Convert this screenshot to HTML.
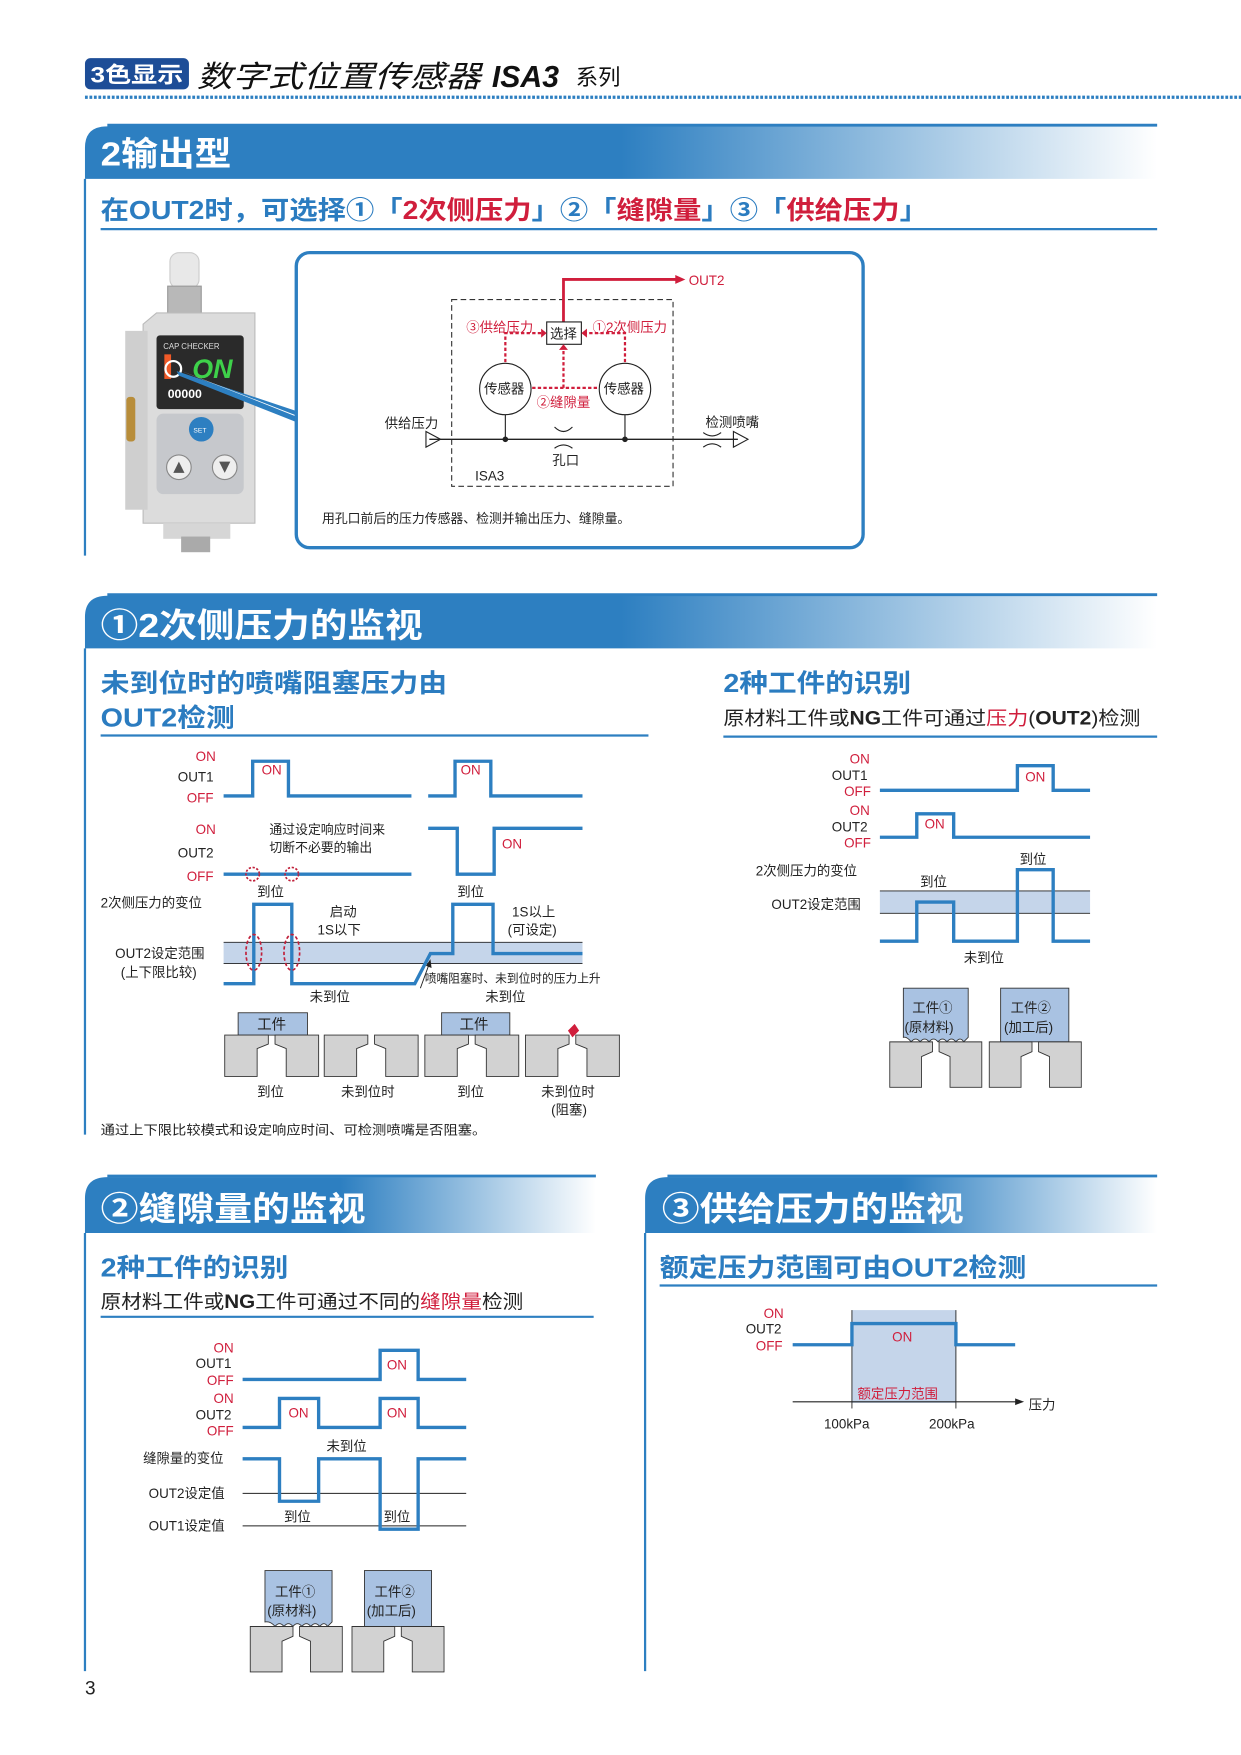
<!DOCTYPE html>
<html><head><meta charset="utf-8">
<style>
html,body{margin:0;padding:0;background:#fff;}
svg{display:block;}
text{font-family:"Liberation Sans","Noto Sans CJK SC",sans-serif;}
.b{fill:#2b7cc0;font-weight:bold;}
.r{fill:#d01e3c;}
.k{fill:#222;}
.sig{fill:none;stroke:#2d7fc1;stroke-width:3;}
.thin{stroke:#222;stroke-width:1;fill:none;}
</style></head>
<body>
<svg width="1241" height="1755" viewBox="0 0 1110 1570" preserveAspectRatio="none" xmlns="http://www.w3.org/2000/svg">
<defs>
<linearGradient id="g" x1="0" x2="1" y1="0" y2="0">
<stop offset="0" stop-color="#2d7fc1"/><stop offset="0.5" stop-color="#2d7fc1"/><stop offset="1" stop-color="#ffffff"/>
</linearGradient>
<g id="noz">
<path d="M-42,0 H-3 V8 L-13,12 V37 H-42 Z" fill="#d2d2d2" stroke="#333" stroke-width="0.8"/>
<path d="M3,0 H42 V37 H13 V12 L3,8 Z" fill="#d2d2d2" stroke="#333" stroke-width="0.8"/>
</g>
</defs>

<!-- header -->
<rect x="76" y="52" width="93" height="28" rx="5" fill="#1d4d97"/>
<text x="81" y="74" font-size="20" font-weight="bold" fill="#fff" textLength="83" lengthAdjust="spacingAndGlyphs">3色显示</text>
<text x="176" y="78" font-size="27" font-style="italic" fill="#111" textLength="254" lengthAdjust="spacingAndGlyphs">数字式位置传感器</text>
<text x="440" y="78" font-size="27" font-style="italic" font-weight="bold" fill="#111">ISA3</text>
<text x="515" y="76" font-size="20" fill="#111">系列</text>
<line x1="76" y1="87" x2="1110" y2="87" stroke="#2d7fc1" stroke-width="3" stroke-dasharray="2.5 1.5"/>

<!-- section 1 -->
<path d="M76,160 V132 Q76,113 96,113 H1035 V160 Z" fill="url(#g)"/>
<line x1="96" y1="112" x2="1035" y2="112" stroke="#2d7fc1" stroke-width="2.5"/>
<text x="90" y="148" font-size="30" font-weight="bold" fill="#fff" textLength="117" lengthAdjust="spacingAndGlyphs">2输出型</text>
<line x1="76" y1="160" x2="76" y2="497" stroke="#2d7fc1" stroke-width="2"/>
<text x="90" y="196" font-size="23" font-weight="bold" textLength="740" lengthAdjust="spacingAndGlyphs"><tspan fill="#2b7cc0">在OUT2时，可选择①「</tspan><tspan fill="#d01e3c">2次侧压力</tspan><tspan fill="#2b7cc0">」②「</tspan><tspan fill="#d01e3c">缝隙量</tspan><tspan fill="#2b7cc0">」③「</tspan><tspan fill="#d01e3c">供给压力</tspan><tspan fill="#2b7cc0">」</tspan></text>
<line x1="90" y1="205" x2="1035" y2="205" stroke="#2d7fc1" stroke-width="2"/>

<!-- device -->
<rect x="152" y="226" width="26" height="32" rx="8" fill="#e8e8e8" stroke="#ccc"/>
<rect x="150" y="256" width="30" height="28" fill="#b8b8b8" stroke="#999"/>
<path d="M128,290 L140,280 H228 V468 H128 Z" fill="#dcdcdc" stroke="#bbb"/>
<rect x="112" y="296" width="20" height="160" fill="#cfcfcf"/>
<rect x="113" y="355" width="8" height="40" rx="3" fill="#b88d3a"/>
<rect x="140" y="300" width="78" height="66" rx="3" fill="#2a2a2a"/>
<text x="146" y="312" font-size="7" fill="#ddd">CAP CHECKER</text>
<text x="172" y="338" font-size="24" font-style="italic" font-weight="bold" fill="#3ed14a">ON</text>
<rect x="147" y="317" width="6" height="22" fill="#f05a28"/>
<circle cx="155" cy="330" r="7" fill="none" stroke="#fff" stroke-width="2"/>
<text x="150" y="356" font-size="11" fill="#fff" font-weight="bold">00000</text>
<rect x="140" y="370" width="78" height="72" rx="6" fill="#c6c8cc"/>
<circle cx="180" cy="384" r="11" fill="#2d7fc1"/>
<text x="173" y="387" font-size="6" fill="#fff">SET</text>
<circle cx="160" cy="418" r="11" fill="#eee" stroke="#888"/>
<path d="M155,423 L160,413 L165,423 Z" fill="#555"/>
<circle cx="201" cy="418" r="11" fill="#eee" stroke="#888"/>
<path d="M196,413 L206,413 L201,423 Z" fill="#555"/>
<rect x="146" y="468" width="60" height="14" fill="#d6d6d6"/>
<rect x="162" y="480" width="26" height="14" fill="#aaa"/>
<path d="M158,332 L266,368 L266,378 L160,336 Z" fill="#2d7fc1"/>
<path d="M160,331 L266,372 L266,373 Z" fill="#fff"/>

<!-- diagram box -->
<rect x="265" y="226" width="507" height="264" rx="12" fill="#fff" stroke="#2d7fc1" stroke-width="3"/>
<rect x="404" y="268" width="198" height="167" fill="none" stroke="#333" stroke-width="1" stroke-dasharray="5 3"/>
<path d="M504,288 V250 H606" fill="none" stroke="#d01e3c" stroke-width="2.5"/>
<path d="M604,246 L613,250 L604,254 Z" fill="#d01e3c"/>
<text x="616" y="255" font-size="12" class="r">OUT2</text>
<rect x="489" y="288" width="31" height="20" fill="#fff" stroke="#222"/>
<text x="492" y="303" font-size="12" class="k">选择</text>
<g fill="none" stroke="#d01e3c" stroke-width="2" stroke-dasharray="3 2">
<path d="M452,324 V298 H485"/><path d="M559,324 V298 H524"/><path d="M504,347 V312"/><path d="M476,347 H535"/>
</g>
<path d="M484,294 L489,298 L484,302 Z M525,294 L520,298 L525,302 Z M500,313 L504,308 L508,313 Z" fill="#d01e3c"/>
<text x="417" y="297" font-size="12" class="r">③供给压力</text>
<text x="530" y="297" font-size="12" class="r">①2次侧压力</text>
<text x="480" y="364" font-size="12" class="r">②缝隙量</text>
<circle cx="452" cy="348" r="23" fill="#fff" stroke="#222"/>
<circle cx="559" cy="348" r="23" fill="#fff" stroke="#222"/>
<text x="433" y="352" font-size="12" class="k">传感器</text>
<text x="540" y="352" font-size="12" class="k">传感器</text>
<line x1="384" y1="393" x2="660" y2="393" stroke="#222" stroke-width="1.2"/>
<line x1="452" y1="371" x2="452" y2="393" stroke="#222"/>
<line x1="559" y1="371" x2="559" y2="393" stroke="#222"/>
<circle cx="452" cy="393" r="2.5" fill="#222"/><circle cx="559" cy="393" r="2.5" fill="#222"/>
<path d="M496,382 Q504,390 512,382 M496,401 Q504,395 512,401" class="thin"/>
<path d="M629,387 Q637,393 645,387 M629,400 Q637,394 645,400" class="thin"/>
<path d="M381,386 L394,393 L381,400 Z" class="thin"/>
<path d="M656,386 L669,393 L656,400 Z" class="thin"/>
<text x="494" y="416" font-size="12" class="k">孔口</text>
<text x="344" y="383" font-size="12" class="k">供给压力</text>
<text x="631" y="382" font-size="12" class="k">检测喷嘴</text>
<text x="425" y="430" font-size="12" class="k">ISA3</text>
<text x="288" y="468" font-size="11.5" class="k">用孔口前后的压力传感器、检测并输出压力、缝隙量。</text>

<!-- section 2 -->
<path d="M76,580 V552 Q76,533 96,533 H1035 V580 Z" fill="url(#g)"/>
<line x1="96" y1="532" x2="1035" y2="532" stroke="#2d7fc1" stroke-width="2.5"/>
<text x="90" y="570" font-size="30" font-weight="bold" fill="#fff" textLength="288" lengthAdjust="spacingAndGlyphs">①2次侧压力的监视</text>
<line x1="76" y1="580" x2="76" y2="1015" stroke="#2d7fc1" stroke-width="2"/>
<text x="90" y="619" font-size="23" class="b" textLength="310" lengthAdjust="spacingAndGlyphs">未到位时的喷嘴阻塞压力由</text>
<text x="90" y="650" font-size="23" class="b" textLength="120" lengthAdjust="spacingAndGlyphs">OUT2检测</text>
<line x1="90" y1="658" x2="580" y2="658" stroke="#2d7fc1" stroke-width="2"/>
<text x="647" y="619" font-size="23" class="b" textLength="168" lengthAdjust="spacingAndGlyphs">2种工件的识别</text>
<text x="647" y="648" font-size="17" class="k" textLength="373" lengthAdjust="spacingAndGlyphs">原材料工件或<tspan font-weight="bold">NG</tspan>工件可通过<tspan class="r">压力</tspan>(<tspan font-weight="bold">OUT2</tspan>)检测</text>
<line x1="647" y1="659" x2="1035" y2="659" stroke="#2d7fc1" stroke-width="2"/>

<!-- left timing -->
<g font-size="12">
<text x="175" y="681" class="r">ON</text><text x="159" y="699" class="k">OUT1</text><text x="167" y="718" class="r">OFF</text>
<text x="175" y="746" class="r">ON</text><text x="159" y="767" class="k">OUT2</text><text x="167" y="788" class="r">OFF</text>
<text x="234" y="693" class="r">ON</text><text x="412" y="693" class="r">ON</text><text x="449" y="759" class="r">ON</text>
<text x="241" y="746" class="k" font-size="11.5">通过设定响应时间来</text>
<text x="241" y="762" class="k" font-size="11.5">切断不必要的输出</text>
<text x="90" y="812" class="k">2次侧压力的变位</text>
<text x="230" y="802" class="k">到位</text><text x="409" y="802" class="k">到位</text>
<text x="295" y="820" class="k">启动</text><text x="284" y="836" class="k">1S以下</text>
<text x="458" y="820" class="k">1S以上</text><text x="454" y="836" class="k">(可设定)</text>
<text x="103" y="857" class="k">OUT2设定范围</text><text x="108" y="874" class="k">(上下限比较)</text>
<text x="380" y="879" class="k" font-size="10.5">喷嘴阻塞时、未到位时的压力上升</text>
<text x="277" y="896" class="k">未到位</text><text x="434" y="896" class="k">未到位</text>
</g>
<path class="sig" d="M200,712 H226 V681 H258 V712 H368"/>
<path class="sig" d="M383,712 H407 V681 H439 V712 H521"/>
<path class="sig" d="M200,782 H368"/>
<path class="sig" d="M383,741 H409 V782 H442 V741 H521"/>
<circle cx="226" cy="782" r="6" fill="none" stroke="#c0203a" stroke-width="1.5" stroke-dasharray="2 1.5"/>
<circle cx="261" cy="782" r="6" fill="none" stroke="#c0203a" stroke-width="1.5" stroke-dasharray="2 1.5"/>
<rect x="200" y="843" width="321" height="19" fill="#c5d5ea"/>
<line x1="200" y1="843" x2="521" y2="843" stroke="#222" stroke-width="0.8"/>
<line x1="200" y1="862" x2="521" y2="862" stroke="#222" stroke-width="0.8"/>
<path class="sig" d="M200,880 H227 V809 H261 V880 H371 L385,853 H405 V809 H441 V853 H521"/>
<ellipse cx="227" cy="852" rx="7" ry="16" fill="none" stroke="#c0203a" stroke-width="1.5" stroke-dasharray="3 2"/>
<ellipse cx="261" cy="852" rx="7" ry="16" fill="none" stroke="#c0203a" stroke-width="1.5" stroke-dasharray="3 2"/>
<line x1="376" y1="884" x2="384" y2="862" stroke="#222" stroke-width="0.8"/>
<path d="M381,864 L385,858 L386,866 Z" fill="#222"/>
<rect x="213" y="906" width="62" height="20" fill="#a9c2e2" stroke="#333" stroke-width="0.8"/>
<text x="230" y="921" font-size="13" class="k">工件</text>
<rect x="395" y="906" width="61" height="20" fill="#a9c2e2" stroke="#333" stroke-width="0.8"/>
<text x="411" y="921" font-size="13" class="k">工件</text>
<use href="#noz" transform="translate(243,926)"/>
<use href="#noz" transform="translate(332,926)"/>
<use href="#noz" transform="translate(422,926)"/>
<use href="#noz" transform="translate(512,926)"/>
<path d="M508,922 L514,916 L518,922 L512,928 Z" fill="#d01e3c"/>
<g font-size="12" class="k">
<text x="230" y="981">到位</text><text x="305" y="981">未到位时</text><text x="409" y="981">到位</text><text x="484" y="981">未到位时</text><text x="493" y="997">(阻塞)</text>
</g>
<text x="90" y="1015" font-size="11.5" class="k" textLength="345" lengthAdjust="spacingAndGlyphs">通过上下限比较模式和设定响应时间、可检测喷嘴是否阻塞。</text>

<!-- right timing -->
<g font-size="12">
<text x="760" y="683" class="r">ON</text><text x="744" y="698" class="k">OUT1</text><text x="755" y="712" class="r">OFF</text>
<text x="760" y="729" class="r">ON</text><text x="744" y="744" class="k">OUT2</text><text x="755" y="758" class="r">OFF</text>
<text x="917" y="699" class="r">ON</text><text x="827" y="741" class="r">ON</text>
<text x="676" y="783" class="k">2次侧压力的变位</text>
<text x="823" y="793" class="k">到位</text><text x="912" y="773" class="k">到位</text>
<text x="690" y="813" class="k">OUT2设定范围</text>
<text x="862" y="861" class="k">未到位</text>
</g>
<path class="sig" d="M787,707 H910 V685 H942 V707 H975"/>
<path class="sig" d="M787,749 H820 V728 H853 V749 H975"/>
<rect x="787" y="797" width="188" height="20" fill="#c5d5ea"/>
<line x1="787" y1="797" x2="975" y2="797" stroke="#222" stroke-width="0.8"/>
<line x1="787" y1="817" x2="975" y2="817" stroke="#222" stroke-width="0.8"/>
<path class="sig" d="M787,842 H820 V807 H853 V842 H910 V778 H942 V842 H975"/>
<path d="M808,884 H866 V928 L862,932 Q859,927 855,932 Q851,927 847,932 Q843,927 839,932 Q835,927 831,932 Q827,927 823,932 Q819,927 815,932 Q811,927 808,928 Z" fill="#a9c2e2" stroke="#333" stroke-width="0.8"/>
<rect x="895" y="884" width="61" height="48" fill="#a9c2e2" stroke="#333" stroke-width="0.8"/>
<g font-size="12" class="k"><text x="816" y="906">工件①</text><text x="809" y="923">(原材料)</text>
<text x="904" y="906">工件②</text><text x="898" y="923">(加工后)</text></g>
<use href="#noz" transform="translate(837,932) scale(0.98,1.1)"/>
<use href="#noz" transform="translate(926,932) scale(0.98,1.1)"/>

<!-- section 3 left -->
<path d="M76,1103 V1072 Q76,1053 96,1053 H533 V1103 Z" fill="url(#g)"/>
<line x1="96" y1="1052" x2="533" y2="1052" stroke="#2d7fc1" stroke-width="2.5"/>
<text x="90" y="1092" font-size="30" font-weight="bold" fill="#fff" textLength="237" lengthAdjust="spacingAndGlyphs">②缝隙量的监视</text>
<line x1="76" y1="1103" x2="76" y2="1495" stroke="#2d7fc1" stroke-width="2"/>
<text x="90" y="1142" font-size="23" class="b" textLength="168" lengthAdjust="spacingAndGlyphs">2种工件的识别</text>
<text x="90" y="1170" font-size="17" class="k" textLength="378" lengthAdjust="spacingAndGlyphs">原材料工件或<tspan font-weight="bold">NG</tspan>工件可通过不同的<tspan class="r">缝隙量</tspan>检测</text>
<line x1="90" y1="1178" x2="531" y2="1178" stroke="#2d7fc1" stroke-width="2"/>
<g font-size="12">
<text x="191" y="1210" class="r">ON</text><text x="175" y="1224" class="k">OUT1</text><text x="185" y="1239" class="r">OFF</text>
<text x="191" y="1255" class="r">ON</text><text x="175" y="1270" class="k">OUT2</text><text x="185" y="1284" class="r">OFF</text>
<text x="346" y="1225" class="r">ON</text><text x="258" y="1268" class="r">ON</text><text x="346" y="1268" class="r">ON</text>
<text x="128" y="1309" class="k">缝隙量的变位</text>
<text x="292" y="1298" class="k">未到位</text>
<text x="133" y="1340" class="k">OUT2设定值</text>
<text x="133" y="1369" class="k">OUT1设定值</text>
<text x="254" y="1361" class="k">到位</text><text x="343" y="1361" class="k">到位</text>
</g>
<path class="sig" d="M217,1234 H340 V1208 H374 V1234 H417"/>
<path class="sig" d="M217,1277 H250 V1251 H285 V1277 H340 V1251 H374 V1277 H417"/>
<line x1="217" y1="1336" x2="417" y2="1336" stroke="#222" stroke-width="0.9"/>
<line x1="217" y1="1365" x2="417" y2="1365" stroke="#222" stroke-width="0.9"/>
<path class="sig" d="M217,1305 H250 V1343 H285 V1305 H340 V1368 H374 V1305 H417"/>
<path d="M237,1405 H297 V1451 L293,1455 Q290,1450 286,1455 Q282,1450 278,1455 Q274,1450 270,1455 Q266,1450 262,1455 Q258,1450 254,1455 Q250,1450 246,1455 Q242,1450 237,1451 Z" fill="#a9c2e2" stroke="#333" stroke-width="0.8"/>
<rect x="326" y="1405" width="60" height="50" fill="#a9c2e2" stroke="#333" stroke-width="0.8"/>
<g font-size="12" class="k"><text x="246" y="1428">工件①</text><text x="239" y="1445">(原材料)</text>
<text x="335" y="1428">工件②</text><text x="328" y="1445">(加工后)</text></g>
<use href="#noz" transform="translate(265,1455) scale(0.98,1.1)"/>
<use href="#noz" transform="translate(356,1455) scale(0.98,1.1)"/>
<text x="76" y="1516" font-size="17" class="k">3</text>

<!-- section 3 right -->
<path d="M577,1103 V1072 Q577,1053 597,1053 H1035 V1103 Z" fill="url(#g)"/>
<line x1="597" y1="1052" x2="1035" y2="1052" stroke="#2d7fc1" stroke-width="2.5"/>
<text x="592" y="1092" font-size="30" font-weight="bold" fill="#fff" textLength="270" lengthAdjust="spacingAndGlyphs">③供给压力的监视</text>
<line x1="577" y1="1103" x2="577" y2="1495" stroke="#2d7fc1" stroke-width="2"/>
<text x="590" y="1142" font-size="23" class="b" textLength="328" lengthAdjust="spacingAndGlyphs">额定压力范围可由OUT2检测</text>
<line x1="590" y1="1150" x2="1035" y2="1150" stroke="#2d7fc1" stroke-width="2"/>
<rect x="762" y="1172" width="93" height="83" fill="#c5d5ea"/>
<line x1="762" y1="1172" x2="762" y2="1260" stroke="#222" stroke-width="0.8"/>
<line x1="855" y1="1172" x2="855" y2="1260" stroke="#222" stroke-width="0.8"/>
<path class="sig" d="M709,1203 H762 V1184 H855 V1203 H908"/>
<line x1="709" y1="1254" x2="910" y2="1254" stroke="#222" stroke-width="1"/>
<path d="M908,1251 L916,1254 L908,1257 Z" fill="#222"/>
<g font-size="12">
<text x="683" y="1179" class="r">ON</text><text x="667" y="1193" class="k">OUT2</text><text x="676" y="1208" class="r">OFF</text>
<text x="798" y="1200" class="r">ON</text>
<text x="767" y="1251" class="r">额定压力范围</text>
<text x="920" y="1261" class="k">压力</text>
<text x="737" y="1278" class="k">100kPa</text><text x="831" y="1278" class="k">200kPa</text>
</g>
</svg>
</body></html>
